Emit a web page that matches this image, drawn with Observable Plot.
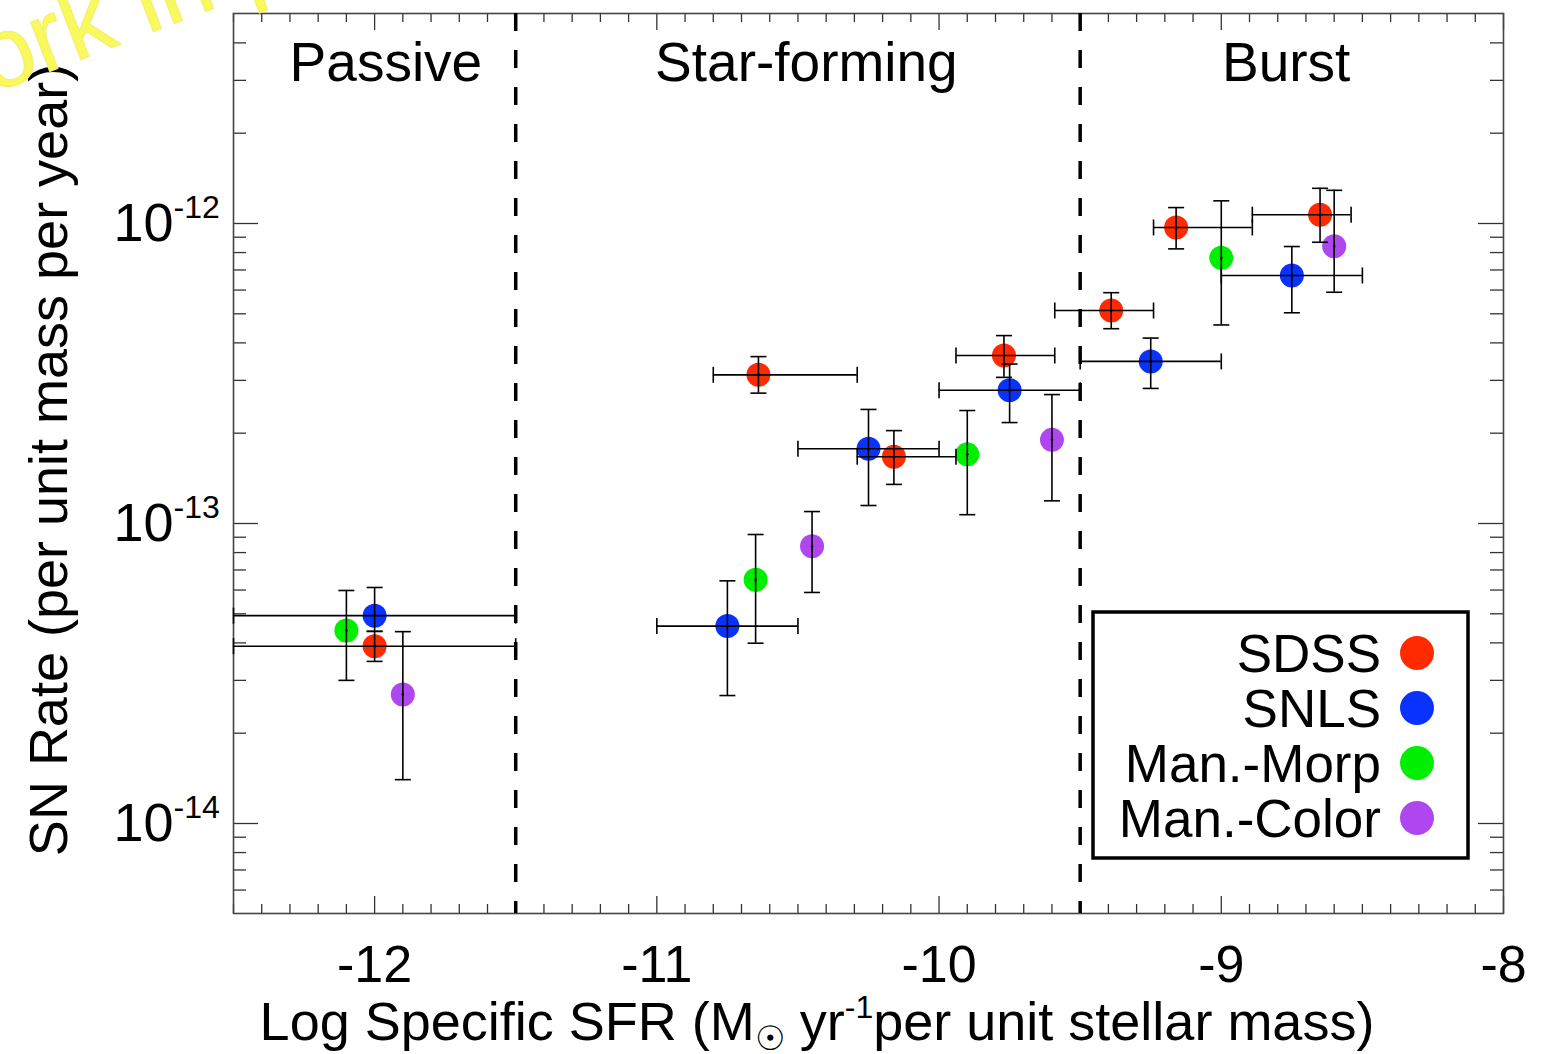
<!DOCTYPE html>
<html><head><meta charset="utf-8">
<script src="https://cdn.jsdelivr.net/npm/d3@7"></script>
<script src="https://cdn.jsdelivr.net/npm/@observablehq/plot@0.6"></script>
<style>body{margin:0;background:#fff} svg{display:block}</style>
</head><body><div id="chart"></div>
<script>
const seriesNames = ["SDSS", "SNLS", "Man.-Morp", "Man.-Color"];
const seriesColors = ["#ff2a00", "#0a32ff", "#00ee00", "#b046ef"];

// SDSS
const sdssX   = [-12, -10.64, -10.16, -9.77, -9.39, -9.16, -8.65];
const sdssY   = [3.90e-14, 3.13e-13, 1.67e-13, 3.63e-13, 5.13e-13, 9.70e-13, 1.07e-12];
const sdssYLo = [3.47e-14, 2.72e-13, 1.35e-13, 3.07e-13, 4.46e-13, 8.23e-13, 8.66e-13];
const sdssYHi = [4.37e-14, 3.60e-13, 2.04e-13, 4.23e-13, 5.88e-13, 1.13e-12, 1.31e-12];
const sdssXLo = [-12.5, -10.80, -10.29, -9.94, -9.59, -9.24, -8.89];
const sdssXHi = [-11.5, -10.29, -9.94, -9.59, -9.24, -8.89, -8.54];
// SNLS
const snlsX   = [-12, -10.75, -10.25, -9.75, -9.25, -8.75];
const snlsY   = [4.93e-14, 4.55e-14, 1.775e-13, 2.78e-13, 3.47e-13, 6.71e-13];
const snlsYLo = [4.37e-14, 2.67e-14, 1.148e-13, 2.17e-13, 2.82e-13, 5.04e-13];
const snlsYHi = [6.12e-14, 6.44e-14, 2.40e-13, 3.40e-13, 4.15e-13, 8.38e-13];
const snlsXLo = [-12.5, -11.0, -10.5, -10.0, -9.5, -9.0];
const snlsXHi = [-11.5, -10.5, -10.0, -9.5, -9.0, -8.5];
// Man.-Morp
const morpX   = [-12.1, -10.65, -9.90, -9.0];
const morpY   = [4.40e-14, 6.49e-14, 1.70e-13, 7.69e-13];
const morpYLo = [3.00e-14, 3.99e-14, 1.07e-13, 4.59e-13];
const morpYHi = [5.98e-14, 9.19e-14, 2.38e-13, 1.19e-12];
// Man.-Color
const colorX   = [-11.9, -10.45, -9.60, -8.60];
const colorY   = [2.69e-14, 8.40e-14, 1.90e-13, 8.40e-13];
const colorYLo = [1.40e-14, 5.89e-14, 1.19e-13, 5.90e-13];
const colorYHi = [4.36e-14, 1.096e-13, 2.69e-13, 1.29e-12];

const regionNames = ["Passive", "Star-forming", "Burst"];
const regionCenters = [-11.96, -10.47, -8.77];
const regionBounds = [-11.5, -9.5];
const xTickValues = [-12, -11, -10, -9, -8];
const yTickValues = [1e-14, 1e-13, 1e-12];

function rows(name, X, Y, YLo, YHi, XLo, XHi) {
  return X.map((x, i) => ({series: name, x, y: Y[i], yLo: YLo[i], yHi: YHi[i],
    xLo: XLo ? XLo[i] : null, xHi: XHi ? XHi[i] : null}));
}
const sdss = rows("SDSS", sdssX, sdssY, sdssYLo, sdssYHi, sdssXLo, sdssXHi);
const snls = rows("SNLS", snlsX, snlsY, snlsYLo, snlsYHi, snlsXLo, snlsXHi);
const morp = rows("Man.-Morp", morpX, morpY, morpYLo, morpYHi);
const colr = rows("Man.-Color", colorX, colorY, colorYLo, colorYHi);
const all = [...snls, ...morp, ...colr, ...sdss];
const withX = all.filter(d => d.xLo != null);

const xMinor = d3.range(-125, -79).map(k => k / 10).filter(v => Math.abs(v - Math.round(v)) > 1e-9);
const yMinor = [];
for (let e = -15; e <= -12; e++) for (let m = 2; m <= 9; m++) {
  const v = m * Math.pow(10, e);
  if (v > 5.01e-15 && v < 5.0e-12) yMinor.push(v);
}

const hCap = {draw(ctx) { ctx.moveTo(-8, 0); ctx.lineTo(8, 0); }};
const vCap = {draw(ctx) { ctx.moveTo(0, -8); ctx.lineTo(0, 8); }};

const W = 1556, H = 1054, mL = 233, mR = 53, mT = 13, mB = 141;
const pw = W - mL - mR, ph = H - mT - mB;
const font = "'Liberation Sans', Arial, Helvetica, sans-serif";
const tickColor = "#333";

const chart = Plot.plot({
  width: W, height: H,
  marginLeft: mL, marginRight: mR, marginTop: mT, marginBottom: mB,
  style: {fontFamily: font, background: "#fff", color: "#000"},
  x: {domain: [-12.5, -8], axis: null},
  y: {type: "log", domain: [Math.pow(10, -14.3), Math.pow(10, -11.3)], axis: null},
  color: {domain: seriesNames, range: seriesColors},
  marks: [
    // ticks (inward, all four sides)
    Plot.tickX(xMinor, {x: d => d, insetTop: ph - 9, stroke: tickColor, strokeWidth: 1.3}),
    Plot.tickX(xMinor, {x: d => d, insetBottom: ph - 9, stroke: tickColor, strokeWidth: 1.3}),
    Plot.tickX(xTickValues, {x: d => d, insetTop: ph - 17, stroke: tickColor, strokeWidth: 1.3}),
    Plot.tickX(xTickValues, {x: d => d, insetBottom: ph - 17, stroke: tickColor, strokeWidth: 1.3}),
    Plot.tickY(yMinor, {y: d => d, insetRight: pw - 13, stroke: tickColor, strokeWidth: 1.3}),
    Plot.tickY(yMinor, {y: d => d, insetLeft: pw - 13, stroke: tickColor, strokeWidth: 1.3}),
    Plot.tickY(yTickValues, {y: d => d, insetRight: pw - 25, stroke: tickColor, strokeWidth: 1.3}),
    Plot.tickY(yTickValues, {y: d => d, insetLeft: pw - 25, stroke: tickColor, strokeWidth: 1.3}),
    Plot.frame({stroke: "#444", strokeWidth: 1.6}),
    // region boundaries
    Plot.ruleX(regionBounds, {x: d => d, stroke: "#000", strokeWidth: 3.5, strokeDasharray: "18,19"}),
    Plot.text(regionNames, {x: (d, i) => regionCenters[i], text: d => d, frameAnchor: "top",
      lineAnchor: "middle", dy: 50, fontSize: 55, fill: "#000"}),
    // points
    Plot.dot(all, {x: "x", y: "y", r: 12, fill: "series"}),
    // error bars
    Plot.ruleX(all, {x: "x", y1: "yLo", y2: "yHi", stroke: "#000", strokeWidth: 1.6}),
    Plot.ruleY(withX, {y: "y", x1: "xLo", x2: "xHi", stroke: "#000", strokeWidth: 1.6}),
    Plot.dot(all, {x: "x", y: "yLo", symbol: hCap, fill: "none", stroke: "#000", strokeWidth: 1.6}),
    Plot.dot(all, {x: "x", y: "yHi", symbol: hCap, fill: "none", stroke: "#000", strokeWidth: 1.6}),
    Plot.dot(withX, {x: "xLo", y: "y", symbol: vCap, fill: "none", stroke: "#000", strokeWidth: 1.6}),
    Plot.dot(withX, {x: "xHi", y: "y", symbol: vCap, fill: "none", stroke: "#000", strokeWidth: 1.6}),
    Plot.dot(all, {x: "x", y: "y", r: 1.3, fill: "#000"}),
    // tick labels
    Plot.text(xTickValues, {x: d => d, text: d => String(d), frameAnchor: "bottom",
      lineAnchor: "middle", dy: 52, fontSize: 52, fill: "#000"}),
    Plot.text(yTickValues, {y: d => d, text: () => "10", frameAnchor: "left", dx: -60,
      textAnchor: "end", fontSize: 54, fill: "#000"}),
    Plot.text(yTickValues, {y: d => d, text: d => String(Math.round(Math.log10(d))), frameAnchor: "left",
      dx: -60, dy: -16, textAnchor: "start", fontSize: 32, fill: "#000"})
  ]
});
document.getElementById("chart").appendChild(chart);

const svg = d3.select(chart);
// axis titles
const xt = svg.append("text").attr("x", 817).attr("y", 1040).attr("text-anchor", "middle")
  .style("font-family", font).style("font-size", "54px").attr("fill", "#000");
xt.append("tspan").text("Log Specific SFR (M");
xt.append("tspan").attr("font-size", "34px").attr("dy", 10).text("\u2609");
xt.append("tspan").attr("dy", -10).text(" yr");
xt.append("tspan").attr("font-size", "32px").attr("dy", -22).text("-1");
xt.append("tspan").attr("dy", 22).text("per unit stellar mass)");

svg.append("text").attr("transform", "translate(67,460) rotate(-90)").attr("text-anchor", "middle")
  .style("font-family", font).style("font-size", "54px").attr("fill", "#000")
  .text("SN Rate (per unit mass per year)");

// legend
const lg = svg.append("g");
lg.append("rect").attr("x", 1093).attr("y", 612).attr("width", 375).attr("height", 246)
  .attr("fill", "#fff").attr("stroke", "#000").attr("stroke-width", 3.5);
seriesNames.forEach((name, i) => {
  const cy = 653 + i * 55;
  lg.append("text").attr("x", 1381).attr("y", cy + 19).attr("text-anchor", "end")
    .style("font-family", font).style("font-size", "53px").attr("fill", "#000").text(name);
  lg.append("circle").attr("cx", 1417).attr("cy", cy).attr("r", 17).attr("fill", seriesColors[i]);
});

// watermark
svg.append("text").attr("transform", "translate(-95,127) rotate(-21)").attr("text-anchor", "start")
  .style("font-family", font).style("font-size", "100px").attr("fill", "#f9f95e")
  .attr("stroke", "#efef70").attr("stroke-width", 1)
  .text("Work in progress");
</script>
</body></html>
